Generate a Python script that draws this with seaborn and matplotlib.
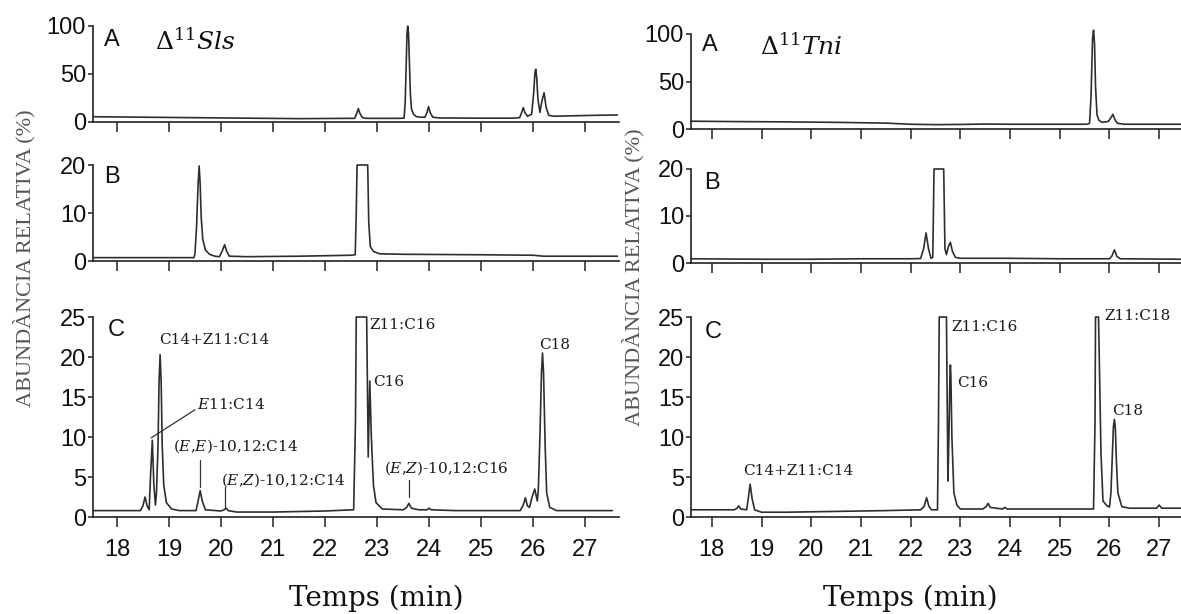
import matplotlib
matplotlib.use("Agg")
import matplotlib.pyplot as plt
import seaborn as sns
import pandas as pd

# ---------------- data ----------------
xticks = [18, 19, 20, 21, 22, 23, 24, 25, 26, 27]
yticks_a = [0, 50, 100]
yticks_b = [0, 10, 20]
yticks_c = [0, 5, 10, 15, 20, 25]

# Delta11 Sls, trace A
sls_a_t = [17.55, 18.5, 19.5, 20.5, 21.5, 22.5, 22.57, 22.61, 22.64, 22.67, 22.72, 22.8, 23.4,
           23.52, 23.54, 23.56, 23.575, 23.59, 23.605, 23.62, 23.64, 23.66, 23.7, 23.76, 23.85,
           23.92, 23.96, 23.99, 24.02, 24.07,
           24.2, 25.0, 25.6, 25.74, 25.78, 25.81, 25.84, 25.89, 25.97, 26.01, 26.035, 26.05,
           26.07, 26.09, 26.13, 26.17, 26.21, 26.25, 26.3, 26.4, 26.8, 27.2, 27.62]
sls_a_y = [5.5, 5.0, 4.5, 4.0, 3.5, 3.8, 3.8, 9, 14, 9, 4.5, 3.8, 3.8,
           4, 20, 60, 92, 100, 92, 65, 30, 14, 8, 5.5, 5,
           5, 10, 16, 10, 5,
           4.2, 4.0, 4.0, 4.5, 10, 15, 10, 6, 8, 30, 52, 55,
           45, 25, 10, 22, 30.5, 15, 7, 6, 6.5, 7, 7.3]

# Delta11 Sls, trace B
sls_b_t = [17.55, 19.48, 19.5, 19.53, 19.56, 19.58, 19.6, 19.62, 19.65, 19.7, 19.78, 19.88,
           19.97, 20.02, 20.07, 20.11, 20.16, 20.5, 21.5, 22.5, 22.58, 22.6, 22.615, 22.82,
           22.84, 22.87, 22.93, 23.05, 23.5, 25.0, 26.0, 26.2, 27.62]
sls_b_y = [0.7, 0.7, 1.5, 7, 16, 19.8, 16, 9, 4.5, 2.3, 1.4, 1.0,
           0.9, 2, 3.4, 2, 1.0, 0.9, 1.0, 1.2, 1.3, 10, 20, 20,
           8, 3, 2, 1.5, 1.4, 1.3, 1.2, 1.0, 1.0]

# Delta11 Sls, trace C
sls_c_t = [17.55, 18.45, 18.5, 18.54, 18.58, 18.62, 18.645, 18.68, 18.71, 18.74, 18.76, 18.79,
           18.81, 18.83, 18.85, 18.87, 18.9, 18.95, 19.05, 19.2, 19.52, 19.56, 19.6, 19.64,
           19.7, 20.0, 20.06, 20.1, 20.14, 20.3, 21.0, 22.0, 22.55, 22.585, 22.6, 22.8,
           22.83, 22.86, 22.89, 22.93, 22.98, 23.1, 23.5, 23.57, 23.61, 23.66, 23.8, 23.96,
           24.0, 24.04, 24.5, 25.75, 25.81, 25.85, 25.89, 25.93, 25.98, 26.03, 26.08, 26.1,
           26.13, 26.16, 26.18, 26.2, 26.23, 26.26, 26.32, 26.45, 27.52]
sls_c_y = [0.8, 0.8, 1.4, 2.5, 1.4, 0.9, 5, 9.6, 4, 1.5, 3, 9,
           17, 20.3, 17, 9, 4, 1.8, 1.0, 0.8, 0.8, 2, 3.3, 2,
           0.9, 0.75, 0.9, 1.1, 0.8, 0.62, 0.62, 0.75, 0.9, 12, 25, 25,
           7.5, 17, 10, 4, 1.8, 1.0, 0.9, 1.2, 1.7, 1.1, 0.9, 0.9,
           1.1, 0.9, 0.8, 0.8, 1.5, 2.4, 1.4, 1.2, 2.5, 3.5, 2.0, 3.5,
           10, 18, 20.5, 18, 9, 3, 1.2, 0.8, 0.8]

# Delta11 Tni, trace A
tni_a_t = [17.58, 18.5, 19.5, 20.5, 21.5, 22.0, 22.5, 23.0, 23.5, 24.0, 25.0, 25.55, 25.6,
           25.63, 25.66, 25.68, 25.70, 25.72, 25.75, 25.79, 25.85, 25.98, 26.03, 26.07, 26.11,
           26.16, 26.3, 27.0, 27.44]
tni_a_y = [8.2, 7.8, 7.5, 7.0, 6.2, 5.0, 4.6, 4.8, 5.2, 5.0, 5.0, 5.0, 6,
           35, 95, 104, 90, 45, 15, 9, 7, 8, 12, 15.4, 10,
           6, 5, 5, 5]

# Delta11 Tni, trace B
tni_b_t = [17.58, 19.0, 20.0, 21.0, 22.0, 22.2, 22.26, 22.31, 22.36, 22.41, 22.445, 22.46,
           22.47, 22.665, 22.69, 22.72, 22.76, 22.8, 22.84, 22.9, 23.0, 24.0, 25.0, 26.0,
           26.05, 26.1, 26.15, 26.22, 27.44]
tni_b_y = [0.9, 0.8, 0.8, 0.9, 0.9, 0.95, 3, 6.4, 3, 1.0, 1.2, 12,
           20, 20, 3, 1.8, 3.5, 4.4, 2.5, 1.2, 1.0, 1.0, 0.9, 0.9,
           1.5, 2.8, 1.4, 0.9, 0.8]

# Delta11 Tni, trace C
tni_c_t = [17.58, 18.45, 18.51, 18.54, 18.58, 18.7, 18.73, 18.77, 18.81, 18.86, 19.0, 19.5,
           20.5, 21.5, 22.2, 22.27, 22.32, 22.37, 22.42, 22.54, 22.56, 22.575, 22.72, 22.75,
           22.77, 22.79, 22.8, 22.81, 22.83, 22.87, 22.93, 23.0, 23.45, 23.52, 23.56, 23.6,
           23.85, 23.9, 23.94, 24.5, 25.68, 25.71, 25.72, 25.78, 25.83, 25.87, 25.95, 26.0,
           26.03, 26.06, 26.08, 26.1, 26.12, 26.14, 26.17, 26.25, 26.4, 26.95, 27.0, 27.05,
           27.44]
tni_c_y = [0.9, 0.9, 1.1, 1.4, 1.0, 0.9, 2.2, 4.1, 2.3, 0.9, 0.6, 0.6,
           0.7, 0.8, 0.9, 1.3, 2.4, 1.3, 0.9, 0.9, 12, 25, 25, 4.5,
           10, 17.5, 19.0, 17.5, 10, 3, 1.5, 1.0, 1.0, 1.3, 1.7, 1.2,
           1.0, 1.2, 1.0, 1.0, 1.0, 12, 25, 25, 8, 2, 1.4, 1.25,
           3, 8, 11.3, 12.2, 11, 7, 3, 1.3, 1.1, 1.1, 1.5, 1.1,
           1.1]

# peak labels: (text, x, y)
sls_labels = [("C14+Z11:C14", 18.81, 22.1),
              (r"$\mathit{E}$11:C14", 19.54, 14.1),
              (r"($\mathit{E}$,$\mathit{E}$)-10,12:C14", 19.08, 8.8),
              (r"($\mathit{E}$,$\mathit{Z}$)-10,12:C14", 20.0, 4.6),
              ("Z11:C16", 22.85, 24.0),
              ("C16", 22.93, 16.9),
              (r"($\mathit{E}$,$\mathit{Z}$)-10,12:C16", 23.13, 6.1),
              ("C18", 26.11, 21.5)]
tni_labels = [("C14+Z11:C14", 18.63, 5.8),
              ("Z11:C16", 22.81, 23.75),
              ("C16", 22.93, 16.7),
              ("Z11:C18", 25.89, 25.1),
              ("C18", 26.06, 13.3)]
# leader lines of the left C labels: (x0, y0, x1, y1)
sls_leaders = [(18.66, 9.9, 19.5, 13.4),
               (19.6, 3.8, 19.6, 7.1),
               (20.08, 1.1, 20.08, 3.8),
               (23.61, 2.5, 23.61, 4.6)]

# ---------------- style ----------------
sns.set_theme(style="ticks")
plt.rcParams["font.family"] = ["Liberation Sans", "DejaVu Sans"]
plt.rcParams["mathtext.fontset"] = "dejavuserif"

W, H = 1181, 614
fig = plt.figure(figsize=(W / 100, H / 100), dpi=100)
fig.patch.set_facecolor("white")

LINE = "#2e2e2e"
AX = "#222222"


def add_ax(x0, x1, top, bottom):
    return fig.add_axes([x0 / W, 1 - bottom / H, (x1 - x0) / W, (bottom - top) / H])


def style_ax(ax, xlim, ylim, yt, show_xlabels):
    ax.set_xlim(*xlim)
    ax.set_ylim(*ylim)
    ax.set_xticks(xticks)
    ax.set_yticks(yt)
    for s in ("top", "right"):
        ax.spines[s].set_visible(False)
    for s in ("left", "bottom"):
        ax.spines[s].set_color(AX)
        ax.spines[s].set_linewidth(1.2)
    ax.tick_params(axis="x", direction="out", length=7, width=1.1, colors=AX,
                   labelsize=17, pad=9, labelbottom=show_xlabels, labelcolor="#111111")
    ax.tick_params(axis="y", direction="out", length=3.5, width=1.1, colors=AX,
                   labelsize=17, pad=1.5, labelcolor="#111111")
    ax.set_xlabel("")
    ax.set_ylabel("")
    ax.set_facecolor("white")


def trace(ax, t, y):
    df = pd.DataFrame({"t": t, "y": y})
    sns.lineplot(data=df, x="t", y="y", ax=ax, sort=False, estimator=None,
                 color=LINE, linewidth=1.2, legend=False)
    for ln in ax.lines:
        ln.set_clip_on(False)


left_xlim = (17.54, 27.65)
right_xlim = (17.58, 27.44)

axes = {}
axes["la"] = add_ax(93, 619, 26, 122)
axes["lb"] = add_ax(93, 619, 165, 261)
axes["lc"] = add_ax(93, 619, 317, 517)
axes["ra"] = add_ax(691, 1181, 34, 129)
axes["rb"] = add_ax(691, 1181, 169, 263)
axes["rc"] = add_ax(691, 1181, 317, 517)

trace(axes["la"], sls_a_t, sls_a_y)
trace(axes["lb"], sls_b_t, sls_b_y)
trace(axes["lc"], sls_c_t, sls_c_y)
trace(axes["ra"], tni_a_t, tni_a_y)
trace(axes["rb"], tni_b_t, tni_b_y)
trace(axes["rc"], tni_c_t, tni_c_y)

style_ax(axes["la"], left_xlim, (0, 100), yticks_a, False)
style_ax(axes["lb"], left_xlim, (0, 20), yticks_b, False)
style_ax(axes["lc"], left_xlim, (0, 25), yticks_c, True)
style_ax(axes["ra"], right_xlim, (0, 100), yticks_a, False)
style_ax(axes["rb"], right_xlim, (0, 20), yticks_b, False)
style_ax(axes["rc"], right_xlim, (0, 25), yticks_c, True)

# peak labels
ann_kw = dict(fontsize=11, family=["DejaVu Serif"], color="#1a1a1a", ha="left", va="center")
for txt, x, y in sls_labels:
    axes["lc"].text(x, y, txt, **ann_kw)
for txt, x, y in tni_labels:
    axes["rc"].text(x, y, txt, **ann_kw)
for x0, y0, x1, y1 in sls_leaders:
    axes["lc"].plot([x0, x1], [y0, y1], color="#333333", linewidth=0.9)


def ftext(x, y, s, **kw):
    fig.text(x / W, 1 - y / H, s, **kw)


# panel letters
letter_kw = dict(fontsize=17, ha="center", va="center", color="#111111")
for s, x, y in [("A", 112, 40), ("B", 112, 177), ("C", 116, 330),
                ("A", 710, 45), ("B", 712, 183), ("C", 713, 332)]:
    ftext(x, y, s, **letter_kw)

# strain labels
ftext(155, 50, r"$\Delta^{11}\mathit{Sls}$", fontsize=18, ha="left", va="baseline", color="#111111")
ftext(760, 55, r"$\Delta^{11}\mathit{Tni}$", fontsize=18, ha="left", va="baseline", color="#111111")

# axis titles
ylab_kw = dict(fontsize=16, family=["Liberation Serif", "DejaVu Serif"], rotation=90,
               ha="center", va="center", color="#555555")
ftext(24, 258, "ABUNDÀNCIA RELATIVA (%)", **ylab_kw)
ftext(633, 277, "ABUNDÀNCIA RELATIVA (%)", **ylab_kw)

xlab_kw = dict(fontsize=20, family=["DejaVu Serif"], ha="center", va="center", color="#111111")
ftext(376, 598, "Temps (min)", **xlab_kw)
ftext(910, 598, "Temps (min)", **xlab_kw)

fig.savefig("out.png", dpi=100, facecolor="white")
